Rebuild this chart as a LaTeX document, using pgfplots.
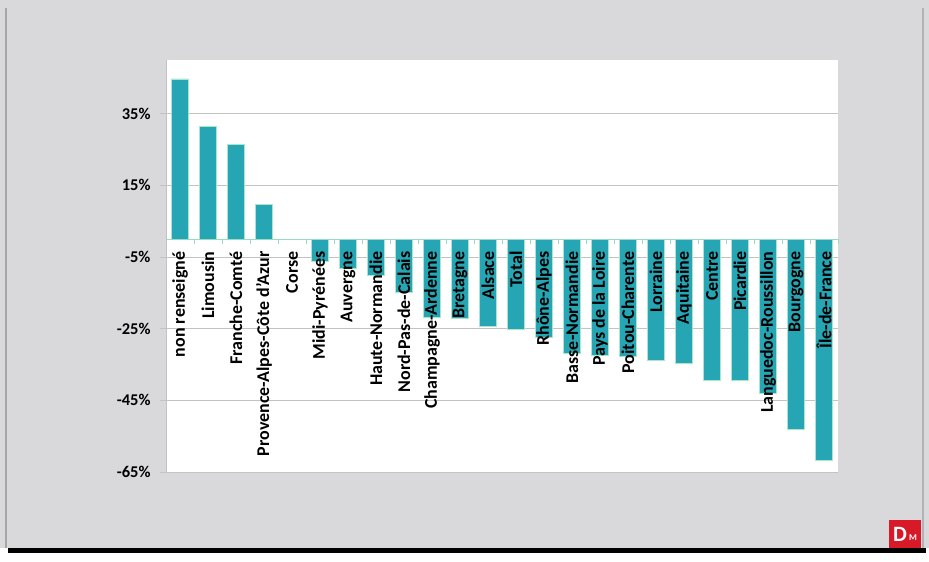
\documentclass[border=0pt]{standalone}
\usepackage{pgfplots}
\pgfplotsset{compat=1.18}
\usepackage{fontspec}
\setmainfont{Carlito}
\definecolor{slidegray}{RGB}{217,216,219}
\definecolor{bart}{RGB}{38,166,180}
\definecolor{baredge}{RGB}{170,230,200}
\definecolor{axgreen}{RGB}{150,220,190}
\definecolor{gridg}{RGB}{195,195,195}
\definecolor{logored}{RGB}{215,25,40}
\pgfplotsset{
  common/.style={
    at={(166bp,90bp)}, anchor=south west,
    scale only axis, width=672bp, height=412bp,
    xmin=-0.5, xmax=23.5, ymin=-65, ymax=50,
  },
}
\begin{document}
\begin{tikzpicture}[x=1bp,y=1bp]
\useasboundingbox (0,0) rectangle (929,562);
\fill[white] (0,0) rectangle (929,562);
\fill[slidegray] (0,14) rectangle (929,562);
\fill[black] (8,9) rectangle (926,14);
\draw[line width=1.5bp, black!35] (6,14) -- (6,554);
\draw[line width=1.5bp, black!30] (923,14) -- (923,554);
% axis 1: background, grid, bars, y axis
\begin{axis}[
  common,
  axis background/.style={fill=white},
  axis x line=none, axis y line*=left,
  y axis line style={draw=gridg, line width=0.8bp, -},
  xtick=\empty,
  ytick={-65,-45,-25,-5,15,35},
  yticklabel={\pgfmathprintnumber{\tick}\%},
  yticklabel style={font=\fontsize{16.5}{16.5}\selectfont\bfseries, xshift=-6bp},
  /pgf/number format/assume math mode=true,
  tick align=outside,
  major y tick style={draw=gridg, line width=0.8bp},
  major tick length=6bp,
  ymajorgrids, grid style={draw=gridg, line width=0.8bp},
]
\addplot[ybar, bar width=0.6, fill=bart, draw=baredge, line width=0.6bp] coordinates {
(0,44.7) (1,31.4) (2,26.5) (3,9.8) (4,0) (5,-6.1) (6,-8.2) (7,-10.1) (8,-14.9) (9,-21.7)
(10,-22.1) (11,-24.2) (12,-25.2) (13,-27.5) (14,-31.8) (15,-32.4) (16,-32.7) (17,-33.8)
(18,-34.7) (19,-39.4) (20,-39.4) (21,-43.1) (22,-53.1) (23,-61.6)
};
\end{axis}
% axis 2: x axis line, ticks and category labels on top
\begin{axis}[
  common,
  axis x line*=middle, axis y line=none,
  x axis line style={draw=axgreen, line width=1bp, -},
  ytick=\empty,
  xtick={0,...,23},
  xticklabels={non renseigné,Limousin,Franche-Comté,Provence-Alpes-Côte d'Azur,Corse,Midi-Pyrénées,Auvergne,Haute-Normandie,Nord-Pas-de-Calais,Champagne-Ardenne,Bretagne,Alsace,Total,Rhône-Alpes,Basse-Normandie,Pays de la Loire,Poitou-Charente,Lorraine,Aquitaine,Centre,Picardie,Languedoc-Roussillon,Bourgogne,Île-de-France},
  minor xtick={0.5,1.5,...,23.5},
  major x tick style={draw=none},
  minor x tick style={draw=axgreen, line width=0.8bp},
  minor tick length=5bp,
  tick align=outside,
  xticklabel style={rotate=90, anchor=east, font=\fontsize{18}{18}\selectfont\bfseries, inner sep=0bp, xshift=-8bp, yshift=0bp},
]
\end{axis}
\fill[logored] (889,14) rectangle (921,42);
\node[white, font=\fontsize{22}{22}\selectfont\bfseries\rmfamily, inner sep=0] at (900,28) {D};
\node[white, font=\fontsize{9}{9}\selectfont\bfseries, inner sep=0] at (913,24) {M};
\end{tikzpicture}
\end{document}
